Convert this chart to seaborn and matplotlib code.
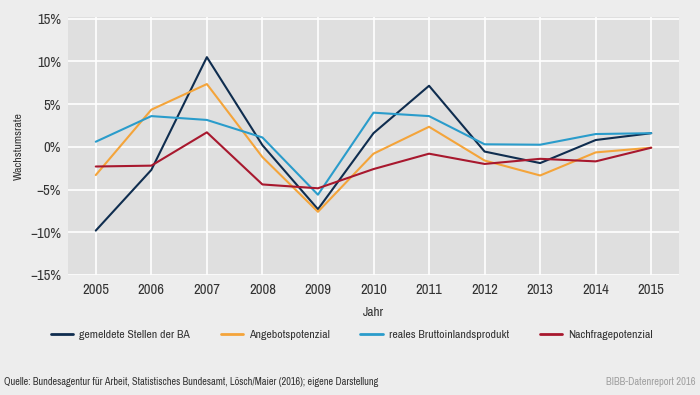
import numpy as np
import pandas as pd
import seaborn as sns
import matplotlib.pyplot as plt
from matplotlib import font_manager as fm

# Wachstumsraten in Prozent, 2005-2015
years = list(range(2005, 2016))
stellen_ba = [-9.8, -2.7, 10.5, 0.2, -7.3, 1.6, 7.15, -0.55, -1.9, 0.8, 1.6]
angebot = [-3.3, 4.35, 7.35, -1.2, -7.6, -0.8, 2.35, -1.6, -3.35, -0.65, -0.1]
bip = [0.6, 3.6, 3.15, 1.1, -5.6, 4.0, 3.6, 0.3, 0.25, 1.5, 1.6]
nachfrage = [-2.3, -2.2, 1.7, -4.4, -4.85, -2.6, -0.8, -2.0, -1.4, -1.7, -0.1]

series_names = ['gemeldete Stellen der BA', 'Angebotspotenzial',
                'reales Bruttoinlandsprodukt', 'Nachfragepotenzial']
colors = ['#0f2d4f', '#f4a43a', '#2a9ccb', '#a8182e']
y_ticks = [-15, -10, -5, 0, 5, 10, 15]

df = pd.DataFrame({'Jahr': years,
                   series_names[0]: stellen_ba,
                   series_names[1]: angebot,
                   series_names[2]: bip,
                   series_names[3]: nachfrage})
df_long = df.melt(id_vars='Jahr', var_name='Reihe', value_name='Wachstumsrate')

# look for a narrow font, the original uses a condensed DIN-like face
names = sorted(set(f.name for f in fm.fontManager.ttflist))
narrow = [n for n in names if 'Narrow' in n or 'Condensed' in n]
font = narrow[0] if narrow else 'Roboto'

sns.set_style('darkgrid', {'axes.facecolor': '#dfdfdf', 'grid.color': 'white'})
plt.rcParams['font.family'] = [font, 'DejaVu Sans']
small = 0 if narrow else 1  # shrink a bit if no narrow font

fig = plt.figure(figsize=(7, 3.95), dpi=100, facecolor='#ededed')
ax = fig.add_axes([68 / 700, 1 - 275 / 395, 611 / 700, 258 / 395])

sns.lineplot(data=df_long, x='Jahr', y='Wachstumsrate', hue='Reihe',
             hue_order=series_names, palette=colors, linewidth=1.5, ax=ax)

ax.set_xlim(2004.5, 2015.5)
ax.set_ylim(-15, 15.2)
ax.set_xticks(years)
ax.set_yticks(y_ticks)
ax.set_yticklabels([f'{t}%'.replace('-', '\u2212') for t in y_ticks])
ax.tick_params(axis='both', length=0, labelsize=10.5 - small, colors='#333333')
ax.tick_params(axis='y', pad=5)
ax.tick_params(axis='x', pad=6)
ax.grid(True, color='white', linewidth=1.2)
for s in ax.spines.values():
    s.set_visible(False)

ax.set_xlabel('Jahr', fontsize=9.5 - small, color='#333333')
ax.xaxis.set_label_coords(0.5, -(307 - 275) / 258)
ax.set_ylabel('Wachstumsrate', fontsize=8.5 - small, color='#333333')
ax.yaxis.set_label_coords(-(68 - 24) / 611, 0.5)

handles, labels = ax.get_legend_handles_labels()
leg = ax.legend(handles, labels, loc='center left',
                bbox_to_anchor=(-(68 - 40) / 611, -(335 - 275) / 258),
                ncol=4, frameon=False, fontsize=8.5 - small, handlelength=1.9,
                handletextpad=0.5, columnspacing=2.6, labelcolor='#333333')
for h in leg.get_lines():
    h.set_linewidth(2)

fig.text(4 / 700, 1 - 382 / 395, 'Quelle: Bundesagentur für Arbeit, Statistisches Bundesamt, Lösch/Maier (2016); eigene Darstellung',
         fontsize=7.4 - small, color='#333333', va='center', ha='left')
fig.text(696 / 700, 1 - 382 / 395, 'BIBB-Datenreport 2016',
         fontsize=7.6 - small, color='#a0a0a0', va='center', ha='right')

fig.savefig('out.png', dpi=100, facecolor=fig.get_facecolor())
